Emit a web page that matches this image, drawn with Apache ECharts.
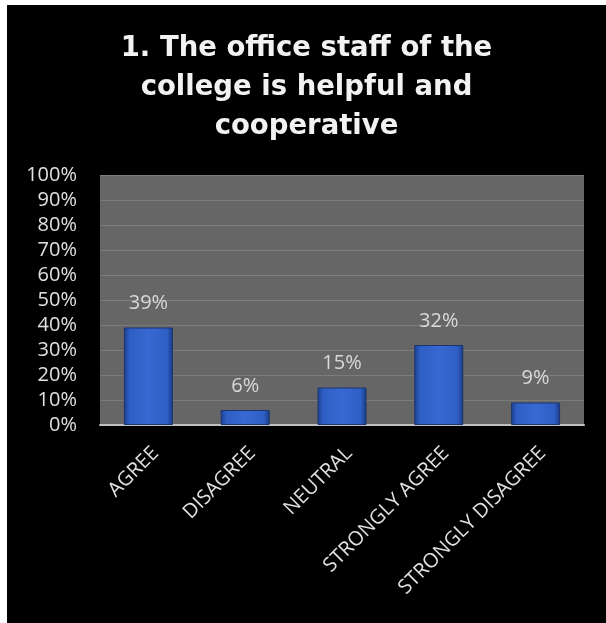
<!DOCTYPE html>
<html><head><meta charset="utf-8">
<script src="https://cdn.jsdelivr.net/npm/echarts@6/dist/echarts.min.js"></script>
<style>
html,body{margin:0;padding:0;background:#fff;}
#frame{position:absolute;left:7px;top:5px;width:599px;height:618px;background:#000;}
#chart{position:absolute;left:0;top:0;width:599px;height:618px;}
</style></head>
<body>
<div id="frame"><div id="chart"></div></div>
<script>
const titleText = "1. The office staff of the\ncollege is helpful and\ncooperative";
const categories = ["AGREE", "DISAGREE", "NEUTRAL", "STRONGLY AGREE", "STRONGLY DISAGREE"];
const values = [39, 6, 15, 32, 9];
const yTicks = [0, 10, 20, 30, 40, 50, 60, 70, 80, 90, 100];

const chart = echarts.init(document.getElementById('chart'), null, {renderer: 'canvas'});
const font = "'Open Sans', 'Liberation Sans', sans-serif";
chart.setOption({
  backgroundColor: '#000',
  animation: false,
  title: {
    text: titleText,
    left: 'center',
    top: 19,
    textStyle: {
      color: '#f2f2f2', fontSize: 27.5, fontWeight: 'bold', fontFamily: "'DejaVu Sans', sans-serif",
      lineHeight: 39, textAlign: 'center'
    }
  },
  grid: { left: 93, right: 22, top: 170, bottom: 198, containLabel: false,
          show: true, backgroundColor: '#666666', borderWidth: 0 },
  xAxis: {
    type: 'category', data: categories,
    axisTick: { show: false },
    axisLine: { show: true, lineStyle: { color: '#bfbfbf', width: 2 } },
    axisLabel: { color: '#e0e0e0', fontSize: 20, fontFamily: font, rotate: 45, interval: 0,
                 margin: 18, verticalAlign: 'top' }
  },
  yAxis: {
    type: 'value', min: yTicks[0], max: yTicks[yTicks.length - 1], interval: 10,
    axisLine: { show: false }, axisTick: { show: false },
    axisLabel: { color: '#e0e0e0', fontSize: 20, fontFamily: font, formatter: '{value}%', margin: 23 },
    splitLine: { show: true, lineStyle: { color: '#7c7c7c', width: 1 } }
  },
  series: [{
    type: 'bar', data: values, barWidth: '50.6%',
    itemStyle: {
      color: new echarts.graphic.LinearGradient(0, 0, 1, 0, [
        { offset: 0, color: '#1d3f8f' },
        { offset: 0.12, color: '#2e5fc4' },
        { offset: 0.5, color: '#3868d2' },
        { offset: 0.88, color: '#2e5fc4' },
        { offset: 1, color: '#1a3a85' }
      ]),
      borderColor: '#1a3570', borderWidth: 1
    },
    label: {
      show: true, position: 'top', distance: 14, formatter: '{c}%',
      color: '#d9d9d9', fontSize: 20, fontFamily: font
    }
  }]
});
</script>
</body></html>
